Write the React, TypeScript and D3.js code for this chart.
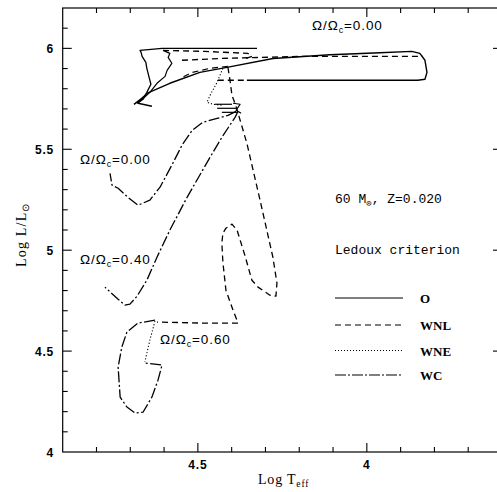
import React from 'react';
import * as d3 from 'd3';

const W = 497;
const H = 492;

// Axis settings
const T_DOMAIN: [number, number] = [4.9, 3.6];
const L_DOMAIN: [number, number] = [4.0, 6.2];
const xMajor = [4.5, 4.0];
const xMajorLabels = ['4.5', '4'];
const yMajor = [4.0, 4.5, 5.0, 5.5, 6.0];
const yMajorLabels = ['4', '4.5', '5', '5.5', '6'];

// ---- Tracks: [log Teff, log L/Lsun] ----
// O phase (solid)
const oWiggleA: [number, number][] = [
  [4.680, 5.728], [4.662, 5.748], [4.651, 5.782], [4.639, 5.822], [4.645, 5.861],
  [4.651, 5.901], [4.654, 5.931], [4.665, 5.960], [4.668, 5.980], [4.671, 5.990],
  [4.606, 6.000], [4.325, 6.000],
];
const oWiggleB: [number, number][] = [
  [4.671, 5.738], [4.642, 5.782], [4.621, 5.827], [4.597, 5.861], [4.591, 5.891],
  [4.577, 5.926], [4.588, 5.955], [4.583, 5.975], [4.603, 5.990],
];
const oMain: [number, number][] = [
  [4.677, 5.733], [4.651, 5.777], [4.583, 5.827], [4.494, 5.881], [4.414, 5.906],
  [4.278, 5.950], [4.109, 5.968], [3.961, 5.978], [3.867, 5.985], [3.843, 5.975],
  [3.828, 5.941], [3.822, 5.881], [3.828, 5.847], [3.849, 5.842], [4.109, 5.842],
  [4.355, 5.842],
];
const oKnot: [number, number][] = [
  [4.689, 5.723], [4.662, 5.757], [4.677, 5.728], [4.636, 5.713],
];

// WNL phase (dashed)
const wnlTop: [number, number][] = [
  [4.603, 5.990], [4.479, 5.985], [4.352, 5.975], [4.340, 5.960], [4.358, 5.950],
];
const wnlLong: [number, number][] = [
  [4.547, 5.941], [4.435, 5.950], [4.316, 5.955], [4.198, 5.960], [3.834, 5.960],
];
const wnlDiag: [number, number][] = [
  [4.411, 5.911], [4.464, 5.901], [4.517, 5.881], [4.553, 5.851],
];
const wnlLower: [number, number][] = [
  [4.441, 5.842], [4.355, 5.842],
];
const wnlMain: [number, number][] = [
  [4.411, 5.906], [4.405, 5.842], [4.399, 5.767], [4.387, 5.713], [4.375, 5.644],
  [4.355, 5.530], [4.316, 5.248], [4.278, 4.965], [4.266, 4.837], [4.269, 4.772],
  [4.287, 4.777], [4.322, 4.817], [4.340, 4.851], [4.361, 4.975], [4.384, 5.099],
  [4.399, 5.129], [4.417, 5.109], [4.426, 5.084], [4.429, 5.035], [4.426, 4.941],
  [4.417, 4.802], [4.396, 4.703], [4.381, 4.639], [4.494, 4.639], [4.621, 4.644],
];

// WNE phase (dotted)
const wne00: [number, number][] = [
  [4.426, 5.901], [4.443, 5.832], [4.464, 5.767], [4.473, 5.733], [4.455, 5.723],
  [4.429, 5.718],
];
const wne60: [number, number][] = [
  [4.627, 4.649], [4.642, 4.554], [4.657, 4.446],
];

// transition strokes near log L = 5.7
const transA: [number, number][] = [[4.449, 5.723], [4.399, 5.723]];
const transB: [number, number][] = [[4.443, 5.703], [4.387, 5.703]];
const transC: [number, number][] = [[4.429, 5.683], [4.381, 5.683]];
const transZ: [number, number][] = [[4.396, 5.728], [4.375, 5.723], [4.387, 5.693], [4.372, 5.678]];

// WC phase (dash-dot)
const wc00: [number, number][] = [
  [4.387, 5.688], [4.411, 5.668], [4.443, 5.653], [4.485, 5.634], [4.517, 5.594],
  [4.547, 5.520], [4.574, 5.431], [4.612, 5.312], [4.642, 5.248], [4.677, 5.223],
  [4.707, 5.262], [4.736, 5.307], [4.754, 5.322], [4.760, 5.381],
];
const wc40: [number, number][] = [
  [4.381, 5.688], [4.390, 5.658], [4.429, 5.559], [4.464, 5.460], [4.532, 5.262],
  [4.583, 5.099], [4.621, 4.965], [4.651, 4.851], [4.680, 4.772], [4.701, 4.733],
  [4.716, 4.728], [4.736, 4.757], [4.775, 4.817],
];
const wc60: [number, number][] = [
  [4.627, 4.653], [4.677, 4.639], [4.710, 4.594], [4.725, 4.520], [4.736, 4.421],
  [4.730, 4.272], [4.710, 4.223], [4.686, 4.193], [4.662, 4.198], [4.636, 4.272],
  [4.618, 4.356], [4.606, 4.431], [4.657, 4.441],
];

const legendItems = ['O', 'WNL', 'WNE', 'WC'];
const legendDash = ['none', '6,4', '1,2', '11,2,2,2'];

const DASH_WNL = '6,4';
const DASH_WNE = '1.2,2';
const DASH_WC = '11,2.5,2,2.5';

export default function App() {
  const x = d3.scaleLinear().domain(T_DOMAIN).range([62.7, 502]);
  const y = d3.scaleLinear().domain(L_DOMAIN).range([452, 8]);
  const line = d3.line<[number, number]>().x((d) => x(d[0])).y((d) => y(d[1]));

  const xMinor = d3.range(48, 36, -1).map((v) => v / 10);
  const yMinor = d3.range(41, 62).map((v) => v / 10);

  const path = (pts: [number, number][], dash: string, sw = 1.3, key?: string) => (
    <path key={key} d={line(pts) || ''} fill="none" stroke="#000" strokeWidth={sw}
      strokeDasharray={dash === 'none' ? undefined : dash} strokeLinejoin="round" />
  );

  const x0 = x(T_DOMAIN[0]);
  const x1 = x(T_DOMAIN[1]);
  const y0 = y(L_DOMAIN[0]);
  const y1 = y(L_DOMAIN[1]);

  const omegaLabel = (lx: number, ly: number, val: string) => (
    <text x={lx} y={ly} fontFamily="Liberation Sans, Arial, sans-serif" fontSize={13.5}
      letterSpacing={0.9} fill="#000">
      Ω/Ω<tspan fontSize={9} dy={3}>c</tspan><tspan dy={-3}>={val}</tspan>
    </text>
  );

  return (
    <div style={{ position: 'absolute', left: 0, top: 0 }}>
      <svg width={W} height={H} style={{ display: 'block', background: '#fff' }}>
        {/* frame */}
        <rect x={x0} y={y1} width={x1 - x0} height={y0 - y1} fill="none" stroke="#000" strokeWidth={1.2} />
        {/* x ticks */}
        {xMinor.map((t) => {
          const major = xMajor.some((m) => Math.abs(m - t) < 1e-6);
          const len = major ? 9 : 5;
          return (
            <g key={'xt' + t}>
              <line x1={x(t)} x2={x(t)} y1={y0} y2={y0 - len} stroke="#000" strokeWidth={1.1} />
              <line x1={x(t)} x2={x(t)} y1={y1} y2={y1 + len} stroke="#000" strokeWidth={1.1} />
            </g>
          );
        })}
        {yMinor.map((l) => {
          const major = yMajor.some((m) => Math.abs(m - l) < 1e-6);
          const len = major ? 9 : 5;
          return (
            <g key={'yt' + l}>
              <line x1={x0} x2={x0 + len} y1={y(l)} y2={y(l)} stroke="#000" strokeWidth={1.1} />
              <line x1={x1} x2={x1 - len} y1={y(l)} y2={y(l)} stroke="#000" strokeWidth={1.1} />
            </g>
          );
        })}
        {/* tick labels */}
        {xMajor.map((t, i) => (
          <text key={'xl' + i} x={x(t)} y={469} textAnchor="middle" fontFamily="Liberation Sans, Arial, sans-serif"
            fontWeight="bold" fontSize={12} letterSpacing={0.8} fill="#000">{xMajorLabels[i]}</text>
        ))}
        {yMajor.map((l, i) => (
          <text key={'yl' + i} x={54} y={y(l) + 4.5} textAnchor="end" fontFamily="Liberation Sans, Arial, sans-serif"
            fontWeight="bold" fontSize={12} letterSpacing={0.8} fill="#000">{yMajorLabels[i]}</text>
        ))}
        {/* axis titles */}
        <text x={258} y={484} fontFamily="Liberation Serif, Times New Roman, serif" fontSize={14} letterSpacing={0.8} fill="#000">
          Log T<tspan fontSize={9.5} dy={3}>eff</tspan>
        </text>
        <text transform="translate(26,267) rotate(-90)" fontFamily="Liberation Serif, Times New Roman, serif" fontSize={14}
          letterSpacing={1.2} fill="#000">
          Log L/L<tspan fontSize={10} dy={3}>⊙</tspan>
        </text>

        {/* tracks: O */}
        {path(oWiggleA, 'none', 1.3, 'oa')}
        {path(oWiggleB, 'none', 1.2, 'ob')}
        {path(oMain, 'none', 1.4, 'om')}
        {path(oKnot, 'none', 1.6, 'ok')}
        {/* WNL */}
        {path(wnlTop, DASH_WNL, 1.3, 'wt')}
        {path(wnlLong, DASH_WNL, 1.3, 'wl')}
        {path(wnlDiag, DASH_WNL, 1.2, 'wd')}
        {path(wnlLower, DASH_WNL, 1.3, 'wlo')}
        {path(wnlMain, DASH_WNL, 1.3, 'wm')}
        {/* WNE */}
        {path(wne00, DASH_WNE, 1.1, 'e0')}
        {path(wne60, DASH_WNE, 1.1, 'e6')}
        {/* transitions */}
        {path(transA, 'none', 1.2, 'ta')}
        {path(transB, 'none', 1.2, 'tb')}
        {path(transC, 'none', 1.2, 'tc')}
        {path(transZ, 'none', 1.2, 'tz')}
        {/* WC */}
        {path(wc00, DASH_WC, 1.3, 'c0')}
        {path(wc40, DASH_WC, 1.3, 'c4')}
        {path(wc60, DASH_WC, 1.3, 'c6')}

        {/* Omega labels */}
        {omegaLabel(312, 30, '0.00')}
        {omegaLabel(80, 164, '0.00')}
        {omegaLabel(80, 264, '0.40')}
        {omegaLabel(160, 344, '0.60')}

        {/* annotation */}
        <text x={335} y={203} fontFamily="Liberation Mono, Courier New, monospace" fontSize={13} fill="#000">
          60 M<tspan fontSize={9} dy={3}>⊙</tspan><tspan dy={-3}>, Z=0.020</tspan>
        </text>
        <text x={335} y={254} fontFamily="Liberation Mono, Courier New, monospace" fontSize={13} fill="#000">
          Ledoux criterion
        </text>

        {/* legend */}
        {legendItems.map((name, i) => {
          const ly = [298, 325, 350.5, 375][i];
          return (
            <g key={'lg' + i}>
              <line x1={335} x2={403} y1={ly} y2={ly} stroke="#000" strokeWidth={1.2}
                strokeDasharray={legendDash[i] === 'none' ? undefined : legendDash[i]} />
              <text x={420} y={ly + 5} fontFamily="Liberation Serif, Times New Roman, serif" fontWeight="bold"
                fontSize={13} fill="#000">{name}</text>
            </g>
          );
        })}
      </svg>
    </div>
  );
}
